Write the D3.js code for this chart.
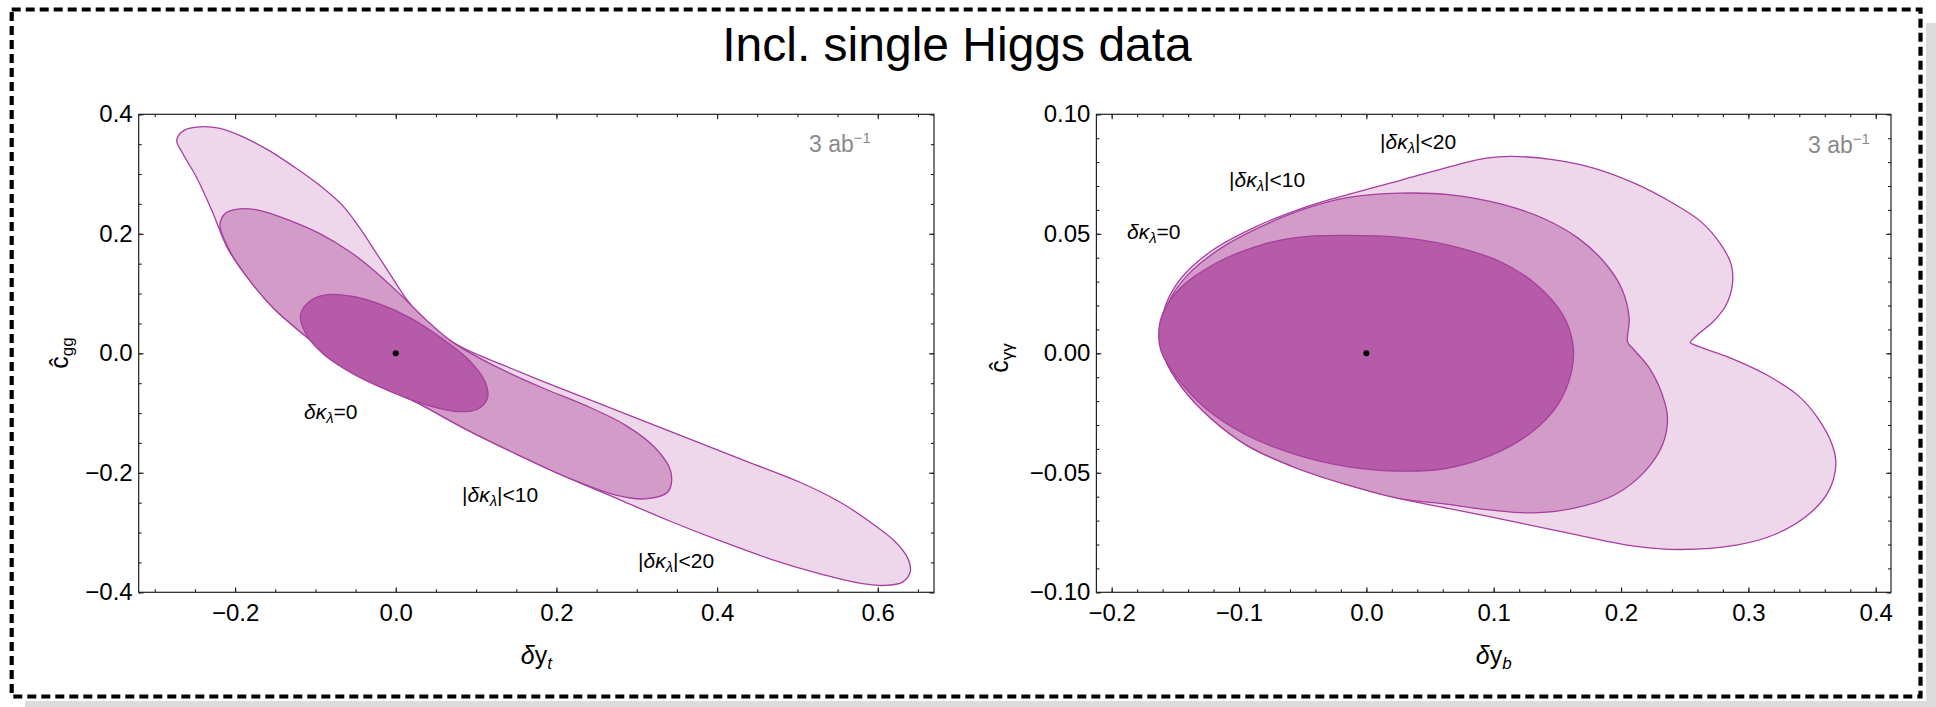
<!DOCTYPE html>
<html>
<head>
<meta charset="utf-8">
<script src="https://cdn.jsdelivr.net/npm/d3@7"></script>
<style>
body { margin: 0; background: #fff; }
text { font-family: "Liberation Sans", Arial, sans-serif; }
</style>
</head>
<body>
<div id="vis"></div>
<script>
// contour outlines, [x, y] in data units

// left panel: dy_t vs c_gg
var left_k20 = [[-0.2727,0.3567],[-0.2632,0.3735],[-0.2441,0.3790],[-0.2188,0.3763],[-0.1902,0.3623],
  [-0.1585,0.3400],[-0.1268,0.3122],[-0.0951,0.2815],[-0.0666,0.2480],[-0.0444,0.2090],
  [-0.0254,0.1700],[-0.0063,0.1310],[0.0127,0.0920],[0.0349,0.0557],[0.0571,0.0307],
  [0.0888,0.0056],[0.1332,-0.0195],[0.1839,-0.0474],[0.2473,-0.0808],[0.3107,-0.1143],
  [0.3741,-0.1477],[0.4375,-0.1812],[0.5010,-0.2146],[0.5517,-0.2480],[0.5897,-0.2815],
  [0.6214,-0.3149],[0.6373,-0.3428],[0.6405,-0.3651],[0.6309,-0.3829],[0.6088,-0.3885],
  [0.5770,-0.3846],[0.5327,-0.3707],[0.4692,-0.3456],[0.4058,-0.3149],[0.3424,-0.2815],
  [0.2790,-0.2453],[0.2156,-0.2090],[0.1522,-0.1700],[0.0888,-0.1282],[0.0317,-0.0864],
  [-0.0190,-0.0530],[-0.0698,-0.0139],[-0.1141,0.0307],[-0.1522,0.0753],[-0.1839,0.1254],
  [-0.2093,0.1756],[-0.2283,0.2369],[-0.2473,0.2926],[-0.2651,0.3344]];

var left_k10 = [[-0.2124,0.2341],[-0.1966,0.2414],[-0.1712,0.2397],[-0.1332,0.2230],[-0.0951,0.2007],
  [-0.0571,0.1700],[-0.0254,0.1366],[0.0063,0.0975],[0.0380,0.0557],[0.0698,0.0195],
  [0.1205,-0.0195],[0.1839,-0.0585],[0.2346,-0.0864],[0.2853,-0.1198],[0.3234,-0.1589],
  [0.3424,-0.1979],[0.3392,-0.2313],[0.3107,-0.2436],[0.2727,-0.2369],[0.2156,-0.2090],
  [0.1522,-0.1700],[0.0888,-0.1282],[0.0317,-0.0864],[-0.0190,-0.0530],[-0.0698,-0.0139],
  [-0.1141,0.0307],[-0.1522,0.0753],[-0.1839,0.1254],[-0.2061,0.1700],[-0.2188,0.2146]];

var left_k0 = [[-0.1186,0.0641],[-0.1078,0.0864],[-0.0888,0.0975],[-0.0571,0.0959],[-0.0190,0.0819],
  [0.0190,0.0585],[0.0571,0.0251],[0.0888,-0.0084],[0.1110,-0.0474],[0.1141,-0.0753],
  [0.1015,-0.0936],[0.0761,-0.0975],[0.0380,-0.0864],[-0.0063,-0.0641],[-0.0507,-0.0362],
  [-0.0888,-0.0028],[-0.1110,0.0307]];

// right panel: dy_b vs c_gamgam
var right_k20 = [[0.1142,0.0824],[0.1463,0.0810],[0.1784,0.0775],[0.2104,0.0712],[0.2385,0.0635],
  [0.2625,0.0552],[0.2786,0.0454],[0.2866,0.0370],[0.2874,0.0286],[0.2826,0.0203],
  [0.2725,0.0133],[0.2605,0.0080],[0.2545,0.0045],[0.2577,0.0035],[0.2866,-0.0021],
  [0.3146,-0.0091],[0.3387,-0.0175],[0.3547,-0.0272],[0.3659,-0.0384],[0.3687,-0.0468],
  [0.3627,-0.0580],[0.3467,-0.0677],[0.3226,-0.0754],[0.2906,-0.0803],[0.2465,-0.0821],
  [0.2104,-0.0807],[0.1663,-0.0761],[0.1222,-0.0712],[0.0741,-0.0659],[0.0261,-0.0608],
  [-0.0140,-0.0552],[-0.0541,-0.0482],[-0.0942,-0.0384],[-0.1222,-0.0272],[-0.1443,-0.0147],
  [-0.1583,-0.0021],[-0.1615,0.0091],[-0.1575,0.0203],[-0.1455,0.0314],[-0.1222,0.0426],
  [-0.0862,0.0531],[-0.0461,0.0615],[-0.0261,0.0647],[0.0261,0.0723],[0.0741,0.0793],
  [0.0942,0.0817]];

var right_k10 = [[0.0261,0.0670],[0.0661,0.0663],[0.1062,0.0624],[0.1383,0.0566],[0.1663,0.0482],
  [0.1864,0.0384],[0.2004,0.0272],[0.2064,0.0147],[0.2052,0.0046],[0.2096,0.0018],
  [0.2224,-0.0063],[0.2325,-0.0175],[0.2365,-0.0272],[0.2325,-0.0384],[0.2184,-0.0496],
  [0.1944,-0.0594],[0.1623,-0.0649],[0.1303,-0.0668],[0.0982,-0.0656],[0.0581,-0.0628],
  [0.0261,-0.0608],[-0.0140,-0.0552],[-0.0541,-0.0482],[-0.0942,-0.0384],[-0.1222,-0.0272],
  [-0.1443,-0.0147],[-0.1583,-0.0021],[-0.1607,0.0091],[-0.1551,0.0216],[-0.1403,0.0328],
  [-0.1142,0.0440],[-0.0822,0.0531],[-0.0461,0.0608],[-0.0140,0.0652]];

var right_k0 = [[-0.1631,0.0077],[-0.1603,0.0161],[-0.1463,0.0272],[-0.1182,0.0377],[-0.0822,0.0454],
  [-0.0541,0.0485],[-0.0220,0.0493],[0.0261,0.0485],[0.0661,0.0451],[0.1062,0.0381],
  [0.1343,0.0284],[0.1543,0.0161],[0.1623,0.0035],[0.1611,-0.0077],[0.1503,-0.0216],
  [0.1303,-0.0328],[0.0982,-0.0426],[0.0621,-0.0482],[0.0261,-0.0493],[-0.0140,-0.0475],
  [-0.0541,-0.0426],[-0.0942,-0.0342],[-0.1263,-0.0230],[-0.1483,-0.0105],[-0.1611,0.0007]];

var best_fit = [0, 0];

var left_x_ticks = [-0.2, 0, 0.2, 0.4, 0.6];
var left_y_ticks = [-0.4, -0.2, 0, 0.2, 0.4];
var right_x_ticks = [-0.2, -0.1, 0, 0.1, 0.2, 0.3, 0.4];
var right_y_ticks = [-0.1, -0.05, 0, 0.05, 0.1];

var title = "Incl. single Higgs data";
var lumi = "3 ab";

color_k20 = "#eed7ea"
color_k10 = "#d39bc8"
color_k0 = "#b55ba7"
color_edge = "#a63f9f"

var width = 1936;
var height = 707;
var frame_top = 114.3;
var frame_bottom = 592.3;
var font = '"Liberation Sans", Arial, sans-serif';

var svg = d3.select('#vis')
    .append('svg')
    .attr('width', width)
    .attr('height', height);

// paper with drop shadow and dashed border
svg.append('rect').attr('x', 25).attr('y', 23).attr('width', width - 25).attr('height', height - 23)
    .attr('fill', '#dcdcdc');
svg.append('rect').attr('x', 0).attr('y', 0).attr('width', 1926).attr('height', 701)
    .attr('fill', '#fff');
svg.append('rect').attr('x', 11.7).attr('y', 9.5).attr('width', 1908.8).attr('height', 687)
    .attr('fill', 'none').attr('stroke', '#000').attr('stroke-width', 4.2)
    .attr('stroke-dasharray', '9,5');

svg.append('text')
    .attr('x', 957).attr('y', 61)
    .attr('text-anchor', 'middle')
    .attr('font-size', 48)
    .text(title);

function minor_ticks(dom, step) {
  var out = [];
  var start = Math.ceil(dom[0] / step - 1e-9);
  var stop = Math.floor(dom[1] / step + 1e-9);
  for (var i = start; i <= stop; i++) out.push(+(i * step).toFixed(4));
  return out;
}

// label like  |δκ_λ|<10  built from tspans
function kappa_label(g, x, y, pre, post) {
  var t = g.append('text').attr('x', x).attr('y', y).attr('font-size', 21);
  if (pre) t.append('tspan').text(pre);
  t.append('tspan').attr('font-style', 'italic').text('δκ');
  t.append('tspan').attr('font-style', 'italic').attr('font-size', 15).attr('dy', 4).text('λ');
  t.append('tspan').attr('dy', -4).text(post);
}

function draw_panel(p) {
  var g = svg.append('g');

  var x_scale = d3.scaleLinear().domain(p.x_dom).range([p.left, p.right]);
  var y_scale = d3.scaleLinear().domain(p.y_dom).range([frame_bottom, frame_top]);

  var line = d3.line()
      .x(function(d) { return x_scale(d[0]); })
      .y(function(d) { return y_scale(d[1]); })
      .curve(d3.curveCatmullRomClosed.alpha(0.5));

  g.selectAll('.region')
    .data(p.regions)
    .enter()
    .append('path')
    .attr('class', 'region')
    .attr('d', function(d) { return line(d.pts); })
    .attr('fill', function(d) { return d.fill; })
    .attr('stroke', color_edge)
    .attr('stroke-width', 1.3)
    .attr('stroke-linejoin', 'round');

  g.append('circle')
    .attr('cx', x_scale(best_fit[0]))
    .attr('cy', y_scale(best_fit[1]))
    .attr('r', 3)
    .attr('fill', '#000');

  // frame ticks on all four sides, pointing inward
  function add_axis(axis, tx, ty) {
    var a = g.append('g')
      .attr('transform', 'translate(' + tx + ',' + ty + ')')
      .call(axis);
    a.select('.domain').remove();
    a.selectAll('line').attr('stroke', '#222').attr('stroke-width', 1.1);
    a.attr('font-size', 24).attr('font-family', font);
    a.selectAll('text').attr('fill', '#000');
  }

  var xmin = minor_ticks(p.x_dom, p.x_minor);
  var ymin = minor_ticks(p.y_dom, p.y_minor);

  add_axis(d3.axisBottom(x_scale).tickValues(xmin).tickSize(-3).tickFormat(''), 0, frame_bottom);
  add_axis(d3.axisTop(x_scale).tickValues(xmin).tickSize(-3).tickFormat(''), 0, frame_top);
  add_axis(d3.axisLeft(y_scale).tickValues(ymin).tickSize(-3).tickFormat(''), p.left, 0);
  add_axis(d3.axisRight(y_scale).tickValues(ymin).tickSize(-3).tickFormat(''), p.right, 0);

  add_axis(d3.axisBottom(x_scale).tickValues(p.x_ticks).tickSize(-5).tickSizeOuter(0)
      .tickPadding(12).tickFormat(d3.format(p.x_fmt)), 0, frame_bottom);
  add_axis(d3.axisTop(x_scale).tickValues(p.x_ticks).tickSize(-5).tickFormat(''), 0, frame_top);
  add_axis(d3.axisLeft(y_scale).tickValues(p.y_ticks).tickSize(-5).tickSizeOuter(0)
      .tickPadding(6).tickFormat(d3.format(p.y_fmt)), p.left, 0);
  add_axis(d3.axisRight(y_scale).tickValues(p.y_ticks).tickSize(-5).tickFormat(''), p.right, 0);

  g.append('rect')
    .attr('x', p.left).attr('y', frame_top)
    .attr('width', p.right - p.left).attr('height', frame_bottom - frame_top)
    .attr('fill', 'none').attr('stroke', '#222').attr('stroke-width', 1.2);

  // x axis label
  var xl = g.append('text')
    .attr('x', (p.left + p.right) / 2).attr('y', 664)
    .attr('text-anchor', 'middle').attr('font-size', 25);
  xl.append('tspan').attr('font-style', 'italic').text('δ');
  xl.append('tspan').text('y');
  xl.append('tspan').attr('font-style', 'italic').attr('font-size', 17).attr('dy', 5).text(p.x_sub);

  // y axis label
  var yl = g.append('text')
    .attr('transform', 'translate(' + p.y_label_x + ',' + p.y_label_y + ') rotate(-90)')
    .attr('text-anchor', 'middle').attr('font-size', 25);
  yl.append('tspan').text('ĉ');
  yl.append('tspan').attr('font-size', 17).attr('dy', 5).text(p.y_sub);

  // luminosity
  var lt = g.append('text').attr('x', p.lumi_x).attr('y', p.lumi_y)
    .attr('font-size', 23).attr('fill', '#8a8a8a');
  lt.append('tspan').text(lumi);
  lt.append('tspan').attr('font-size', 15).attr('dy', -9).text('−1');

  kappa_label(g, p.lab0[0], p.lab0[1], '', '=0');
  kappa_label(g, p.lab10[0], p.lab10[1], '|', '|<10');
  kappa_label(g, p.lab20[0], p.lab20[1], '|', '|<20');
}

draw_panel({
  left: 138.7, right: 934,
  x_dom: [-0.32, 0.67], y_dom: [-0.4, 0.4],
  x_ticks: left_x_ticks, y_ticks: left_y_ticks,
  x_minor: 0.05, y_minor: 0.05,
  x_fmt: '.1f', y_fmt: '.1f',
  regions: [{pts: left_k20, fill: color_k20}, {pts: left_k10, fill: color_k10}, {pts: left_k0, fill: color_k0}],
  x_sub: 't', y_sub: 'gg',
  y_label_x: 68, y_label_y: 353,
  lumi_x: 809, lumi_y: 152,
  lab0: [304, 419], lab10: [462, 502], lab20: [638, 568]
});

draw_panel({
  left: 1096.4, right: 1891,
  x_dom: [-0.212, 0.412], y_dom: [-0.1, 0.1],
  x_ticks: right_x_ticks, y_ticks: right_y_ticks,
  x_minor: 0.02, y_minor: 0.01,
  x_fmt: '.1f', y_fmt: '.2f',
  regions: [{pts: right_k20, fill: color_k20}, {pts: right_k10, fill: color_k10}, {pts: right_k0, fill: color_k0}],
  x_sub: 'b', y_sub: 'γγ',
  y_label_x: 1008, y_label_y: 358,
  lumi_x: 1808, lumi_y: 153,
  lab0: [1127, 239], lab10: [1229, 187], lab20: [1380, 149]
});
</script>
</body>
</html>
